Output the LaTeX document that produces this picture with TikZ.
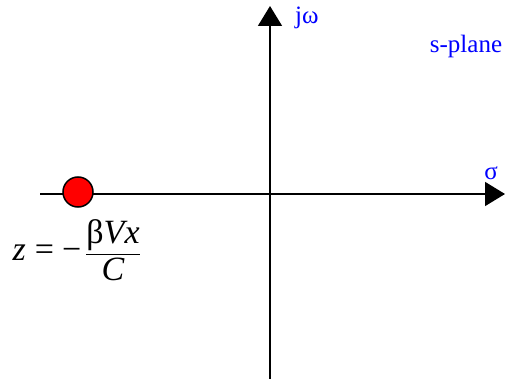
\documentclass[tikz,border=0pt]{standalone}
\usepackage{fontspec}
\setmainfont{Liberation Serif}
\usepackage{tikz}
\usetikzlibrary{arrows.meta}

\tikzset{
  axis/.style={line width=1.5pt,-{Triangle[length=20pt,width=24pt]}},
  blab/.style={text=blue,font=\fontsize{25}{28}\selectfont,inner sep=0pt},
}

\begin{document}
\begin{tikzpicture}[x=1pt,y=-1pt]
          \useasboundingbox (0,0) rectangle (505,379);
          \coordinate (hl) at (40,194);
          \coordinate (hr) at (505,194);
          \coordinate (vb) at (270,379);
          \coordinate (vt) at (270,6);
          \path[axis] (hl) edge (hr);
          \path[axis] (vb) edge (vt);
          \node[draw,circle,fill=red,line width=1.5pt,minimum size=30pt,inner sep=0pt] (zero) at (78,192) {};
          \node[blab,anchor=west] (jw) at (295,18) {jω};
          \node[blab] (sp) at (466,46) {s-plane};
          \node[blab] (sig) at (491,173) {σ};
          \node[anchor=east,inner sep=0pt,font=\fontsize{34}{40}\selectfont] (zval) at (141,250.5)
            {$\textit{z}\kern9pt\textrm{=}\kern8pt\textrm{−}\kern4pt\displaystyle\frac{\textrm{β}\textit{Vx}}{\raisebox{-3pt}{\textit{C}}}$};
        \end{tikzpicture}
\end{document}
